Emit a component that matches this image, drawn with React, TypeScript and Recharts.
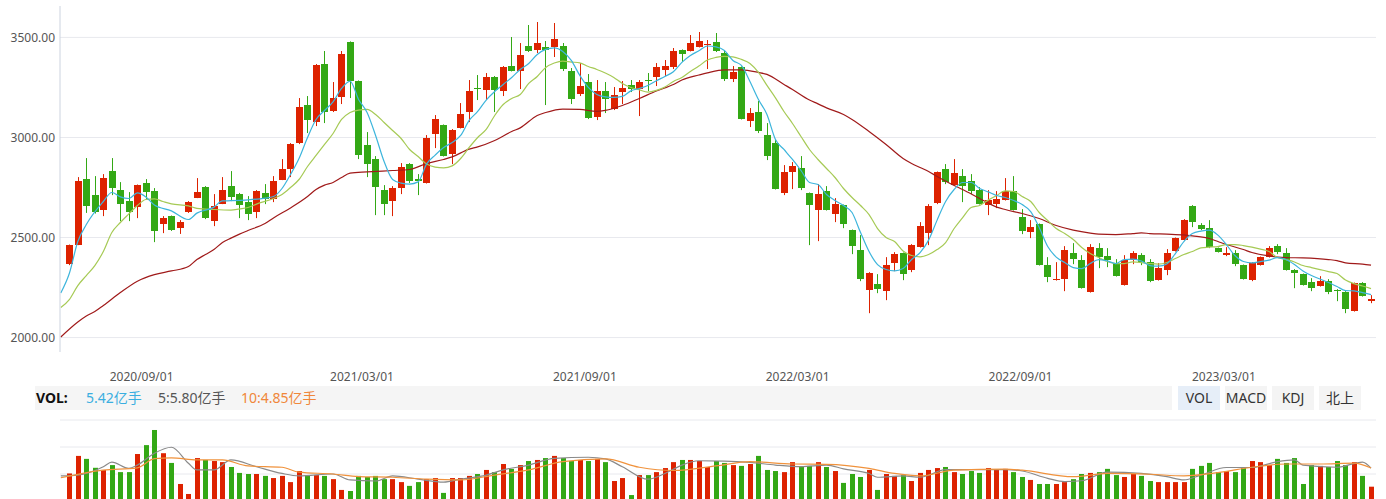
import React from 'react';
import { Bar, CartesianGrid, ComposedChart, Line, XAxis, YAxis } from 'recharts';

// weekly candles (index 0 = first visible week)
const openP = [
  2370, 2465, 2792, 2712, 2638, 2832, 2737, 2682, 2652, 2772, 2732, 2568, 2607, 2547, 2627, 2697, 2752, 2582, 2667, 2757,
  2717, 2677, 2627, 2722, 2692, 2787, 2842, 2972, 3162, 3077, 3367, 3132, 3202, 3477, 3282, 2962, 2892, 2737, 2682, 2747,
  2867, 2792, 2772, 3017, 3062, 2917, 3047, 3127, 3247, 3237, 3302, 3232, 3357, 3332, 3457, 3437, 3452, 3452, 3457, 3332,
  3217, 3277, 3102, 3232, 3142, 3227, 3262, 3242, 3287, 3302, 3337, 3352, 3437, 3432, 3452, 3462, 3477, 3422, 3292, 3352,
  3082, 3127, 3012, 2972, 2722, 2827, 2847, 2722, 2637, 2732, 2617, 2662, 2537, 2437, 2237, 2267, 2232, 2372, 2422, 2337,
  2452, 2522, 2672, 2842, 2762, 2807, 2782, 2737, 2662, 2667, 2687, 2732, 2602, 2527, 2567, 2362, 2287, 2292, 2422, 2387,
  2227, 2447, 2407, 2372, 2262, 2387, 2412, 2377, 2287, 2337, 2432, 2487, 2657, 2562, 2547, 2447, 2412, 2422, 2362, 2287,
  2362, 2402, 2457, 2422, 2337, 2317, 2277, 2257, 2282, 2237, 2227, 2132, 2272, 2182,
];
const highP = [
  2465, 2802, 2897, 2807, 2817, 2897, 2777, 2727, 2765, 2792, 2747, 2607, 2610, 2587, 2682, 2797, 2757, 2717, 2802, 2832,
  2723, 2707, 2737, 2767, 2807, 2892, 2972, 3197, 3207, 3367, 3432, 3277, 3432, 3480, 3285, 3027, 2907, 2762, 2757, 2872,
  2872, 2817, 3012, 3112, 3065, 3042, 3172, 3287, 3312, 3322, 3307, 3357, 3502, 3472, 3562, 3577, 3482, 3572, 3472, 3347,
  3372, 3317, 3287, 3277, 3252, 3282, 3287, 3287, 3322, 3372, 3387, 3447, 3440, 3512, 3527, 3487, 3522, 3432, 3357, 3355,
  3147, 3182, 3072, 2987, 2862, 2877, 2907, 2725, 2767, 2757, 2697, 2665, 2540, 2512, 2327, 2317, 2402, 2427, 2425, 2467,
  2577, 2667, 2830, 2867, 2892, 2842, 2817, 2752, 2737, 2732, 2797, 2807, 2642, 2587, 2570, 2402, 2377, 2457, 2472, 2412,
  2467, 2472, 2447, 2392, 2412, 2432, 2422, 2392, 2372, 2442, 2500, 2592, 2662, 2572, 2587, 2450, 2452, 2437, 2365, 2377,
  2405, 2457, 2467, 2447, 2342, 2320, 2297, 2307, 2292, 2242, 2232, 2275, 2277, 2212,
];
const lowP = [
  2362, 2462, 2623, 2620, 2607, 2712, 2582, 2582, 2597, 2692, 2477, 2522, 2533, 2518, 2623, 2697, 2592, 2557, 2667, 2682,
  2597, 2587, 2597, 2667, 2677, 2787, 2802, 2967, 3022, 3057, 3072, 3127, 3167, 3197, 2892, 2802, 2612, 2612, 2607, 2717,
  2772, 2712, 2770, 2947, 2905, 2867, 3045, 3077, 3187, 3187, 3127, 3207, 3330, 3242, 3427, 3422, 3162, 3402, 3332, 3167,
  3207, 3092, 3087, 3122, 3137, 3167, 3227, 3107, 3232, 3257, 3307, 3342, 3377, 3430, 3450, 3342, 3427, 3282, 3277, 3090,
  3052, 3022, 2887, 2740, 2712, 2742, 2737, 2462, 2482, 2635, 2577, 2547, 2417, 2282, 2122, 2222, 2187, 2332, 2287, 2327,
  2450, 2462, 2667, 2767, 2760, 2677, 2717, 2665, 2612, 2647, 2685, 2635, 2517, 2497, 2360, 2277, 2285, 2232, 2367, 2245,
  2225, 2347, 2352, 2305, 2260, 2367, 2362, 2277, 2285, 2312, 2430, 2485, 2552, 2537, 2447, 2425, 2407, 2357, 2290, 2282,
  2360, 2400, 2417, 2335, 2247, 2260, 2232, 2255, 2217, 2182, 2122, 2130, 2205, 2172,
];
const closeP = [
  2462, 2782, 2658, 2627, 2797, 2748, 2667, 2627, 2762, 2727, 2533, 2597, 2538, 2578, 2677, 2727, 2597, 2657, 2737, 2702,
  2662, 2617, 2732, 2692, 2782, 2842, 2967, 3152, 3087, 3362, 3127, 3197, 3417, 3282, 2912, 2867, 2752, 2667, 2747, 2852,
  2782, 2782, 2997, 3092, 2907, 3037, 3117, 3232, 3242, 3302, 3237, 3352, 3332, 3412, 3432, 3472, 3437, 3492, 3342, 3192,
  3257, 3097, 3232, 3192, 3212, 3247, 3242, 3277, 3282, 3352, 3357, 3432, 3417, 3472, 3482, 3467, 3432, 3292, 3327, 3092,
  3122, 3032, 2907, 2742, 2827, 2857, 2747, 2662, 2717, 2637, 2667, 2567, 2457, 2292, 2322, 2242, 2362, 2417, 2317, 2462,
  2557, 2657, 2827, 2777, 2822, 2757, 2732, 2667, 2687, 2692, 2732, 2637, 2532, 2552, 2362, 2302, 2292, 2437, 2392, 2247,
  2452, 2402, 2387, 2307, 2387, 2422, 2377, 2282, 2347, 2422, 2497, 2587, 2577, 2542, 2452, 2427, 2422, 2367, 2292, 2372,
  2402, 2447, 2427, 2337, 2322, 2262, 2247, 2282, 2227, 2232, 2142, 2272, 2207, 2192,
];
// weekly volume (亿手)
const volume = [
  10.2, 16.7, 15.6, 12.3, 11.5, 13.3, 10.7, 10.7, 17.4, 20.7, 26.3, 17.7, 14.1, 6.3, 2.6, 15.9, 15.2, 14.8, 14.4, 12.6,
  10.4, 10.0, 10.0, 9.3, 8.5, 9.3, 7.0, 11.1, 9.6, 9.6, 9.3, 8.1, 4.1, 3.7, 9.3, 8.9, 9.3, 8.1, 8.1, 7.0,
  5.6, 7.0, 8.1, 8.5, 3.0, 8.5, 8.5, 9.3, 10.0, 11.5, 10.7, 13.7, 11.9, 13.3, 14.8, 15.2, 15.9, 16.7, 15.9, 14.8,
  15.2, 14.8, 15.6, 14.4, 7.4, 8.5, 2.2, 9.6, 9.6, 10.7, 12.2, 14.4, 15.2, 15.2, 14.8, 12.6, 14.8, 14.1, 13.3, 13.0,
  13.7, 16.7, 11.5, 11.1, 10.7, 14.4, 12.6, 13.0, 14.4, 12.6, 11.1, 6.7, 10.0, 8.9, 11.5, 4.1, 10.0, 9.3, 9.6, 7.4,
  10.4, 11.5, 12.2, 12.6, 10.7, 10.0, 11.1, 10.4, 12.2, 11.5, 11.9, 10.7, 8.9, 7.8, 6.3, 6.3, 6.3, 7.0, 8.1, 10.0,
  10.4, 10.7, 11.9, 9.6, 8.9, 10.0, 9.3, 7.4, 7.0, 7.0, 7.0, 7.0, 11.9, 13.0, 14.1, 10.7, 11.1, 10.7, 12.2, 14.8,
  14.4, 13.3, 15.6, 14.1, 15.9, 6.3, 13.3, 13.0, 12.6, 14.8, 13.3, 14.4, 9.3, 5.3,
];

// moving averages as drawn, [week index, value]
const ma5Pts = [
  [-1, 2223], [0, 2320], [1, 2480], [2, 2565], [4, 2680], [5, 2725], [6, 2703], [7, 2695], [8, 2723], [9, 2703],
  [10, 2662], [12, 2633], [14, 2590], [15, 2622], [17, 2652], [18, 2683], [19, 2684], [21, 2688], [23, 2697], [24, 2705],
  [25, 2745], [26, 2815], [27, 2895], [28, 3000], [29, 3090], [30, 3135], [31, 3178], [32, 3245], [33, 3282], [34, 3190],
  [35, 3125], [36, 3010], [37, 2880], [38, 2790], [39, 2772], [40, 2767], [41, 2778], [42, 2868], [43, 2912], [44, 2950],
  [45, 2975], [46, 3010], [47, 3085], [48, 3130], [49, 3187], [50, 3230], [51, 3265], [52, 3300], [53, 3340], [54, 3370],
  [55, 3415], [56, 3440], [57, 3448], [58, 3430], [59, 3385], [60, 3310], [61, 3250], [62, 3215], [63, 3203], [64, 3200],
  [65, 3205], [66, 3233], [67, 3245], [68, 3260], [69, 3283], [70, 3305], [71, 3328], [72, 3375], [73, 3410], [74, 3433],
  [75, 3457], [76, 3453], [77, 3435], [78, 3385], [79, 3360], [80, 3280], [81, 3190], [82, 3115], [83, 2990], [84, 2940],
  [85, 2890], [86, 2835], [87, 2775], [88, 2765], [89, 2715], [90, 2685], [91, 2660], [92, 2625], [93, 2525], [94, 2430],
  [95, 2365], [96, 2340], [97, 2333], [98, 2345], [99, 2390], [100, 2425], [101, 2487], [102, 2587], [103, 2680], [104, 2740],
  [105, 2775], [106, 2775], [107, 2745], [108, 2728], [109, 2710], [110, 2700], [111, 2685], [112, 2665], [113, 2630], [114, 2550],
  [115, 2455], [116, 2402], [117, 2375], [118, 2350], [119, 2345], [120, 2370], [121, 2390], [122, 2383], [123, 2370], [124, 2390],
  [125, 2392], [126, 2383], [127, 2360], [128, 2357], [129, 2368], [130, 2420], [131, 2480], [132, 2520], [133, 2532], [134, 2537],
  [135, 2512], [136, 2465], [137, 2410], [138, 2380], [139, 2373], [140, 2380], [141, 2387], [142, 2400], [143, 2390], [144, 2365],
  [145, 2333], [146, 2310], [147, 2293], [148, 2275], [149, 2255], [150, 2235], [151, 2233], [152, 2225], [153, 2215],
];
const ma10Pts = [
  [-1, 2150], [0, 2190], [1, 2260], [2, 2310], [3, 2360], [4, 2430], [5, 2525], [6, 2575], [7, 2618], [8, 2660],
  [9, 2690], [10, 2693], [11, 2680], [12, 2668], [14, 2658], [15, 2646], [17, 2640], [19, 2637], [20, 2643], [21, 2650],
  [22, 2667], [24, 2695], [25, 2715], [26, 2750], [27, 2790], [28, 2855], [29, 2910], [30, 2965], [31, 3020], [32, 3090],
  [33, 3125], [34, 3137], [35, 3140], [36, 3115], [37, 3075], [38, 3035], [39, 2995], [40, 2940], [41, 2905], [42, 2867],
  [43, 2852], [44, 2848], [45, 2858], [46, 2895], [47, 2950], [48, 3000], [49, 3040], [50, 3110], [51, 3165], [52, 3195],
  [53, 3215], [54, 3270], [55, 3305], [56, 3350], [57, 3372], [58, 3382], [59, 3377], [60, 3373], [61, 3355], [62, 3340],
  [63, 3322], [64, 3300], [65, 3270], [66, 3250], [67, 3238], [68, 3227], [69, 3235], [70, 3252], [71, 3280], [72, 3300],
  [73, 3330], [74, 3357], [75, 3387], [76, 3400], [77, 3405], [78, 3403], [79, 3390], [80, 3370], [81, 3325], [82, 3260],
  [83, 3198], [84, 3130], [85, 3070], [86, 3005], [87, 2940], [88, 2890], [89, 2845], [90, 2800], [91, 2745], [92, 2700],
  [93, 2660], [94, 2615], [95, 2545], [96, 2500], [97, 2480], [98, 2433], [99, 2410], [100, 2403], [101, 2415], [102, 2440],
  [103, 2475], [104, 2545], [105, 2600], [106, 2650], [107, 2660], [108, 2687], [109, 2710], [110, 2733], [111, 2730], [112, 2705],
  [113, 2680], [114, 2625], [115, 2585], [116, 2545], [117, 2520], [118, 2490], [119, 2450], [120, 2420], [121, 2400], [122, 2380],
  [123, 2370], [124, 2370], [125, 2378], [126, 2375], [127, 2370], [128, 2367], [129, 2375], [130, 2395], [131, 2415], [132, 2430],
  [133, 2448], [134, 2452], [135, 2455], [136, 2465], [137, 2465], [138, 2460], [139, 2452], [140, 2442], [141, 2430], [142, 2400],
  [143, 2390], [144, 2378], [145, 2360], [146, 2350], [147, 2340], [148, 2330], [149, 2320], [150, 2288], [151, 2270], [152, 2258],
  [153, 2245],
];
const maLongPts = [
  [-1, 2003], [1, 2078], [2, 2108], [3, 2130], [4, 2160], [6, 2225], [8, 2282], [10, 2315], [12, 2333], [14, 2355],
  [15, 2390], [16, 2415], [17, 2440], [18, 2475], [19, 2497], [20, 2517], [21, 2535], [23, 2570], [24, 2598], [26, 2648],
  [28, 2705], [29, 2740], [30, 2762], [31, 2775], [32, 2800], [33, 2822], [35, 2828], [38, 2835], [40, 2840], [42, 2870],
  [44, 2890], [45, 2903], [47, 2942], [48, 2953], [50, 2985], [52, 3030], [53, 3048], [55, 3110], [56, 3125], [58, 3142],
  [60, 3140], [62, 3130], [63, 3135], [65, 3160], [67, 3195], [69, 3232], [71, 3265], [72, 3287], [74, 3312], [75, 3323],
  [77, 3338], [79, 3338], [81, 3325], [82, 3315], [84, 3265], [85, 3240], [87, 3187], [88, 3168], [89, 3148], [91, 3115],
  [92, 3090], [94, 3030], [96, 2965], [98, 2895], [99, 2870], [100, 2850], [101, 2830], [102, 2805], [104, 2760], [105, 2740],
  [107, 2695], [109, 2652], [110, 2640], [112, 2620], [114, 2595], [116, 2560], [118, 2537], [120, 2522], [121, 2517], [123, 2515],
  [125, 2520], [126, 2523], [127, 2520], [129, 2517], [131, 2513], [132, 2508], [134, 2495], [135, 2480], [136, 2465], [138, 2440],
  [139, 2425], [141, 2408], [143, 2400], [145, 2398], [148, 2390], [149, 2385], [150, 2373], [152, 2367], [153, 2362],
];
const volMa5Pts = [
  [-1, 9.3], [1, 9.6], [4, 12.7], [5, 14.4], [7, 12.1], [8, 13.3], [10, 17.7], [12, 19.9], [14, 14.0], [15, 11.5],
  [17, 11.5], [19, 15.2], [22, 12.7], [25, 10.2], [27, 9.3], [31, 10.0], [33, 7.8], [36, 7.4], [38, 9.3], [41, 8.1],
  [44, 7.0], [46, 8.1], [49, 9.6], [51, 11.5], [54, 13.3], [57, 15.8], [61, 16.2], [63, 15.6], [65, 12.7], [68, 8.1],
  [70, 10.2], [72, 13.3], [74, 14.9], [77, 14.8], [80, 14.3], [83, 13.3], [86, 12.7], [89, 13.3], [91, 11.9], [94, 10.2],
  [95, 8.8], [98, 9.3], [100, 8.8], [103, 11.6], [106, 11.6], [110, 11.6], [112, 11.1], [115, 8.4], [117, 7.2], [119, 7.5],
  [122, 10.7], [126, 10.2], [129, 9.0], [131, 7.8], [133, 9.6], [136, 12.4], [139, 12.4], [142, 14.6], [144, 15.2], [145, 13.3],
  [149, 12.5], [152, 14.4], [153, 12.2],
];
const volMa10Pts = [
  [-1, 8.6], [4, 11.4], [8, 12.3], [10, 15.7], [12, 16.0], [15, 15.2], [18, 15.2], [21, 13.0], [25, 12.5], [27, 10.7],
  [31, 10.0], [34, 9.0], [38, 8.8], [42, 8.1], [46, 7.8], [50, 9.6], [54, 11.5], [58, 14.6], [63, 15.6], [67, 12.5],
  [71, 11.3], [76, 13.0], [80, 14.6], [85, 13.7], [89, 13.6], [94, 12.1], [97, 10.2], [100, 9.3], [104, 11.4], [110, 11.8],
  [112, 11.4], [118, 9.0], [122, 10.2], [127, 9.9], [131, 9.3], [135, 10.5], [139, 12.5], [143, 13.7], [147, 13.7], [151, 14.0],
  [153, 12.2],
];

const xTickAt = [8.5, 34.4, 60.6, 85.6, 111.8, 135.7];
const xTickLabels = ['2020/09/01', '2021/03/01', '2021/09/01', '2022/03/01', '2022/09/01', '2023/03/01'];
const priceTicks = [2000, 2500, 3000, 3500];
const volTicks = [0, 10, 20, 30];

const RED = '#dd2200';
const GREEN = '#33a815';
const FONT = '"Noto Sans", "Noto Sans CJK SC", Arial, sans-serif';

// layout: plot spans x 60..1376, first candle centre at 69.3, one week = 8.508px
const W = 1386;
const PLOT_L = 60;
const PLOT_R = 1376;
const FIRST_C = 69.3;
const STEP = 8.508;
const N = openP.length;
const PAD_L = FIRST_C - PLOT_L - STEP / 2;
const PAD_R = PLOT_R - PLOT_L - PAD_L - N * STEP;
const numDomain = [(PLOT_L - FIRST_C) / STEP, (PLOT_R - FIRST_C) / STEP];

const rows = openP.map((o, i) => ({
  i,
  o,
  h: highP[i],
  l: lowP[i],
  c: closeP[i],
  vol: volume[i],
}));

const toLine = (pts: number[][]) => pts.map(([i, v]) => ({ i, v }));

const CandleShape = (props: any) => {
  const { x, y, width, height, payload } = props;
  if (!payload || height == null) return null;
  const { o, h, l, c } = payload;
  const color = c >= o ? RED : GREEN;
  const k = height / (h - l);
  const left = Math.round(x + width / 2 - 3.5);
  const top = Math.round(y + (h - Math.max(o, c)) * k);
  const bot = Math.round(y + (h - Math.min(o, c)) * k);
  return (
    <g>
      <line x1={left + 3.5} x2={left + 3.5} y1={y} y2={y + height} stroke={color} strokeWidth={1} />
      <rect x={left} y={top} width={7} height={Math.max(1, bot - top)} fill={color} />
    </g>
  );
};

const VolShape = (props: any) => {
  const { x, y, width, height, payload } = props;
  if (!payload || height == null) return null;
  const color = payload.c >= payload.o ? RED : GREEN;
  const left = Math.round(x + width / 2 - 2.5);
  return <rect x={left} y={y} width={5} height={height} fill={color} />;
};

const btn = (label: string, active: boolean, left: number) => (
  <div
    key={label}
    style={{
      position: 'absolute', left, top: 386, width: 42, height: 24, lineHeight: '24px',
      textAlign: 'center', fontSize: 14, color: '#333', background: active ? '#e6eef8' : '#f4f4f4',
    }}
  >
    {label}
  </div>
);

export default function App() {
  return (
    <div style={{ position: 'absolute', left: 0, top: 0, width: W, height: 499, overflow: 'hidden', background: '#fff', fontFamily: FONT }}>
      {/* price chart */}
      <div style={{ position: 'absolute', left: 0, top: 0 }}>
        <ComposedChart width={W} height={390} data={rows} barCategoryGap={0} margin={{ top: 6, right: W - PLOT_R, bottom: 0, left: 0 }}>
          <CartesianGrid xAxisId="n" vertical={false} horizontalValues={priceTicks} stroke="#e8e9ee" />
          <XAxis
            xAxisId="n" dataKey="i" type="number" domain={numDomain} allowDataOverflow
            ticks={xTickAt} interval={0} height={38} axisLine={false} tickLine={false} tickSize={0} tickMargin={20}
            tick={{ fontSize: 12, fill: '#555', fontFamily: FONT }}
            tickFormatter={(v: number) => xTickLabels[xTickAt.indexOf(v)] ?? ''}
          />
          <XAxis xAxisId="c" dataKey="i" type="category" hide height={0} orientation="top" padding={{ left: PAD_L, right: PAD_R }} />
          <YAxis
            width={60} domain={[1928, 3657]} ticks={priceTicks} allowDataOverflow
            axisLine={{ stroke: '#ccd3df' }} tickLine={false} tickSize={0} tickMargin={5}
            tick={{ fontSize: 12, fill: '#555', fontFamily: FONT }}
            tickFormatter={(v: number) => v.toFixed(2)}
          />
          <Bar xAxisId="c" dataKey={(d: any) => [d.l, d.h]} shape={<CandleShape />} isAnimationActive={false} />
          <Line xAxisId="n" data={toLine(maLongPts)} dataKey="v" type="monotone" stroke="#a01a1a" strokeWidth={1.2} dot={false} isAnimationActive={false} />
          <Line xAxisId="n" data={toLine(ma10Pts)} dataKey="v" type="monotone" stroke="#a6ca55" strokeWidth={1.2} dot={false} isAnimationActive={false} />
          <Line xAxisId="n" data={toLine(ma5Pts)} dataKey="v" type="monotone" stroke="#3db5dc" strokeWidth={1.2} dot={false} isAnimationActive={false} />
        </ComposedChart>
      </div>

      {/* VOL legend bar */}
      <div style={{ position: 'absolute', left: 35, top: 386, width: 1137, height: 24, background: '#f5f5f5', fontSize: 14, lineHeight: '24px' }}>
        <span style={{ position: 'absolute', left: 1, fontWeight: 700, color: '#111' }}>VOL:</span>
        <span style={{ position: 'absolute', left: 51, color: '#3aaee0' }}>5.42亿手</span>
        <span style={{ position: 'absolute', left: 123, color: '#555' }}>5:5.80亿手</span>
        <span style={{ position: 'absolute', left: 206, color: '#f0873a' }}>10:4.85亿手</span>
      </div>
      {btn('VOL', true, 1178)}
      {btn('MACD', false, 1225)}
      {btn('KDJ', false, 1272)}
      {btn('北上', false, 1319)}

      {/* volume chart */}
      <div style={{ position: 'absolute', left: 0, top: 414 }}>
        <ComposedChart width={W} height={87} data={rows} barCategoryGap={0} margin={{ top: 6, right: W - PLOT_R, bottom: 0, left: PLOT_L }}>
          <CartesianGrid xAxisId="n" vertical={false} horizontalValues={volTicks} stroke="#e8e9ee" />
          <XAxis xAxisId="c" dataKey="i" type="category" hide padding={{ left: PAD_L, right: PAD_R }} />
          <XAxis xAxisId="n" dataKey="i" type="number" hide domain={numDomain} allowDataOverflow />
          <YAxis hide domain={[0, 30]} ticks={volTicks} allowDataOverflow />
          <Bar xAxisId="c" dataKey="vol" shape={<VolShape />} isAnimationActive={false} />
          <Line xAxisId="n" data={toLine(volMa5Pts)} dataKey="v" type="monotone" stroke="#8a8a8a" strokeWidth={1.2} dot={false} isAnimationActive={false} />
          <Line xAxisId="n" data={toLine(volMa10Pts)} dataKey="v" type="monotone" stroke="#f0923c" strokeWidth={1.2} dot={false} isAnimationActive={false} />
        </ComposedChart>
      </div>
    </div>
  );
}
